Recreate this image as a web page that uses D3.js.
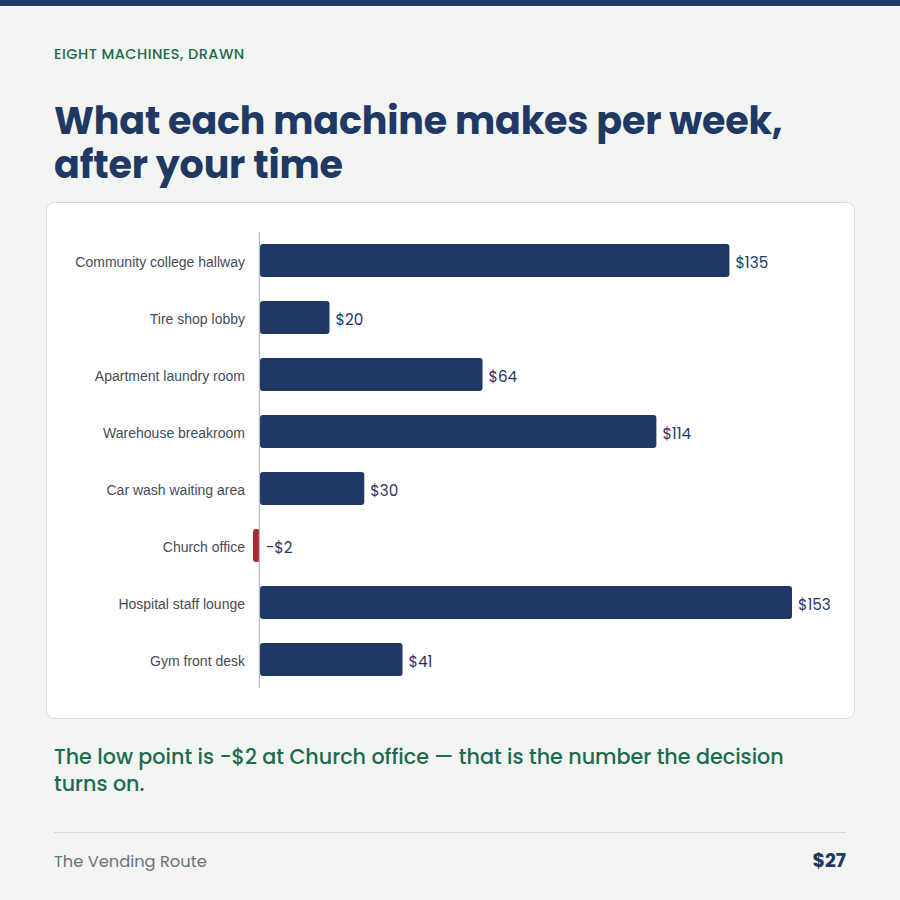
<!DOCTYPE html>
<html><head><meta charset="utf-8">
<script src="https://cdn.jsdelivr.net/npm/d3@7"></script>
<style>html,body{margin:0;padding:0;background:#f3f5f2;}svg{display:block;}</style>
</head><body>
<svg id="c" width="900" height="900"></svg>
<script>
const categories = ["Community college hallway","Tire shop lobby","Apartment laundry room","Warehouse breakroom","Car wash waiting area","Church office","Hospital staff lounge","Gym front desk"];
const values = [135,20,64,114,30,-2,153,41];
const valueLabels = ["$135","$20","$64","$114","$30","-$2","$153","$41"];

const svg = d3.select("#c");
const navy = "#1f3864", green = "#1e6b4f", red = "#a82c2c";
const poppins = "Poppins, 'Open Sans', sans-serif";

svg.append("rect").attr("x",0).attr("y",0).attr("width",900).attr("height",900).attr("fill","#f3f5f2");
svg.append("rect").attr("x",0).attr("y",0).attr("width",900).attr("height",6).attr("fill",navy);

svg.append("text").attr("x",54).attr("y",59).attr("fill",green)
  .style("font-family",poppins).style("font-size","14.5px").style("font-weight","500").style("letter-spacing","0.45px")
  .text("EIGHT MACHINES, DRAWN");

const t1 = svg.append("text").attr("fill",navy).style("font-family",poppins).style("font-weight","700").style("font-size","38px").style("letter-spacing","-0.15px");
t1.append("tspan").attr("x",54).attr("y",133.5).text("What each machine makes per week,");
t1.append("tspan").attr("x",54).attr("y",178).text("after your time");

svg.append("rect").attr("x",46.5).attr("y",202.5).attr("width",808).attr("height",516).attr("rx",8)
  .attr("fill","#ffffff").attr("stroke","#d8dcd8");

const x = d3.scaleLinear().domain([-2,153]).range([253,792]);
const y = d3.scaleBand().domain(categories).range([232,688]).paddingInner(0.42).paddingOuter(0.21);

const g = svg.append("g");
g.selectAll("rect.bar").data(values).join("rect").attr("class","bar")
  .attr("x",(d)=>x(Math.min(0,d)))
  .attr("y",(d,i)=>y(categories[i]))
  .attr("width",(d)=>Math.abs(x(d)-x(0)))
  .attr("height",y.bandwidth())
  .attr("rx",3)
  .attr("fill",(d)=>d<0?red:navy);

g.append("line").attr("x1",x(0)-0.5).attr("x2",x(0)-0.5).attr("y1",232).attr("y2",688).attr("stroke","#b8bcc2").attr("stroke-width",1.2);

g.selectAll("text.cat").data(categories).join("text").attr("class","cat")
  .attr("x",245).attr("y",(d)=>y(d)+y.bandwidth()/2+1.5).attr("dy","0.35em").attr("text-anchor","end")
  .attr("fill","#454c59").style("font-family","'Liberation Sans', Arial, sans-serif").style("font-size","14px")
  .text((d)=>d);

g.selectAll("text.val").data(values).join("text").attr("class","val")
  .attr("x",(d)=>Math.max(x(d),x(0))+6).attr("y",(d,i)=>y(categories[i])+y.bandwidth()/2+2).attr("dy","0.38em")
  .attr("fill",navy).style("font-family",poppins).style("font-size","15.2px")
  .text((d,i)=>valueLabels[i]);

const s = svg.append("text").attr("fill",green).style("font-family",poppins).style("font-size","20.7px").style("font-weight","500");
s.append("tspan").attr("x",54).attr("y",764).text("The low point is -$2 at Church office \u2014 that is the number the decision");
s.append("tspan").attr("x",54).attr("y",791).text("turns on.");

svg.append("line").attr("x1",54).attr("x2",846).attr("y1",832.5).attr("y2",832.5).attr("stroke","#d6d9d6").attr("stroke-width",1.2);
svg.append("text").attr("x",54).attr("y",867).attr("fill","#6b7280").style("font-family",poppins).style("font-size","16.3px")
  .text("The Vending Route");
svg.append("text").attr("x",846).attr("y",867).attr("text-anchor","end").attr("fill",navy).style("font-family",poppins).style("font-weight","700").style("font-size","19px")
  .text("$27");
</script>
</body></html>
